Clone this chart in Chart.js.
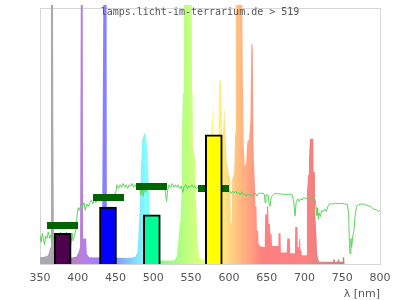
<!DOCTYPE html>
<html><head><meta charset="utf-8">
<script src="https://cdn.jsdelivr.net/npm/chart.js@4"></script>
<style>html,body{margin:0;padding:0;background:#fff}canvas{display:block}</style>
</head><body>
<canvas id="c" width="400" height="300"></canvas>
<script>
const sourceLabel = 'lamps.licht-im-terrarium.de > 519';
const axisTitle = 'λ [nm]';
const xTicks = [350, 400, 450, 500, 550, 600, 650, 700, 750, 800];

// emission spectrum (relative, 100 = top of frame; lines run off the top)
const specNm = [350,356,360,362,363.5,364.5,367,367.6,368.5,371,376,380,386,392,398,401,403,404.3,406.5,407,411,412,415,425,432,434.3,438,438.5,442,455,465,472,476,479,481.5,483.5,485.5,488,490,492,494,496,498,502,506,520,528,531,533,535,536,537.3,537.8,539.2,540.5,540.6,550.8,551,552,552.5,555,556.5,558.5,560.5,566,570,573,575,576.3,578,579.5,581,583,585.5,587,588.5,589.8,591,592.5,594,595.5,597,600,601.8,602.3,603.7,604.3,607,608.3,609.2,617.2,618.2,619.5,621,623,624.3,626.8,628.5,629.7,631,631.6,632.5,634.5,635,636.5,637,638.8,639.2,641,647.5,648,650,650.3,652,652.5,654.3,654.7,656.4,657,665,665.6,668.3,668.8,676.5,677.3,680.7,681.2,687.3,687.8,690.8,691.2,692.6,693,694.3,694.7,696,696.5,702.8,703.3,705,706,707.3,711.7,712,713.8,714.2,716,716.8,718.5,720,737.8,738,740.3,740.6,743.6,744,746,746.3,750.4,750.7,752.6,753,800];
const specVal = [2.6,2.8,3.2,4.5,6.5,130,130,56,6,4,3,2.8,2.6,2.5,2.8,4.5,6.6,130,130,10,10,4,2.6,2.5,2.7,130,130,4,2.6,2.4,2.3,2.5,2.8,4.5,18,36,49,51,51,45,30,15,6,2.5,1.5,1.3,1.5,3,8.5,15.7,17,28,50,67,67,130,130,67,67,45,42,25,10,2.5,1.5,3,10,30,54,57,64,38,30,36,72,72,70,48,53,62,50,40,35,33,16,16,33,36,51,130,130,79,48,38,40,47.5,49,56,86,86,83.5,45,30,22.6,22.6,13,13,8,7,6.6,19.4,19.4,22.6,22.6,15.6,15.6,11.7,11.7,7,7,12,12,4.5,4.5,10,10,4.2,4.2,14.5,14.5,6.6,6.6,9.8,9.8,5.4,5.4,3.4,3.4,28,35,41,49,49,36,36,20,10.5,4,1.5,0.9,0.9,1.8,1.8,0.9,0.9,1.8,1.8,0.9,0.9,2.6,2.6,0,0];

// green transmission curve
const curveNm = [350,351.5,353,354.5,356,357.5,359,361,363,365,367,369,371,373,375,377,379,381,383,385,387,389,391,392.5,394,396,397.5,399,400.5,402,404,406,408,410,412,414,416,418,420,422,424,426,428,430,432,434,436,438,440,442,444,446,448,450,451.5,454,456,458,460,462,464,466,468,470,472,474,476,478,480,482,483.5,485,486.5,488,490,492,494,496,498,500,502,504,506,508,510,512,514,516,517.5,519,521,523,525,527,529,531,533,535,537,539,541,543,545,547,549,551,553,555,557,559,561,563,565,570,575,580,585,590,595,599,601,603,605,607,609,611,613,615,617,619,621,623,625,627,629,631,633,635,637,639,641,643,645,647,648,649,652,653.5,654.5,656,658,660,665,670,675,680,684,686,687.5,689,691,693,695,697,699,702,705,708,711,714,715.5,716.5,717.5,718.5,719.5,721,723,725,727,729,731,733,737,741,745,749,753,757,758.5,759.5,760.3,761.5,762.5,764,765.5,767,769,772,776,780,784,788,791,795,798,800];
const curveVal = [11,8.5,12,10,7.5,11,10,12.5,10,11.5,9,12,10.5,12,11,12.5,10,12,11,12.5,10,12,8,12,9,12,13,19,22,21,23,22,24,21,23.5,22.5,24,25,23.5,25.5,24,25,26,24.5,26,25,27,26,27,25.5,27,26,27.5,27,31,29.5,31,30,31.5,30,31,29.5,31,30.5,31.5,30,31,30,31,29,27,30,26.5,29.5,28,30.5,31,30,31,30,31,30.5,31.5,30,31,30,31,28,24.5,29,31,30,31.5,30,31,30,31,29.5,30.5,28,30.5,31,29.5,30.5,30,31,30,30.5,29.5,30,30.5,29.5,30,29.5,29.5,29,29.5,29,28.5,28.3,28.8,27.5,28.5,27.8,28.5,27.5,28,27,28.3,27,27.5,26.5,27.5,26.8,27.2,26.5,27.5,27.8,26.5,27.5,27.8,27.5,27.8,27,24,27,27,23,22.6,26,27,27.5,27.5,27.3,27.2,27.3,27,24,18.8,24,25.5,24.5,25.5,25,26,25.5,26,25.8,26,25.5,22,19,22,17.5,20,18.5,21,20.5,21.5,20.5,22.5,23.5,23.5,23.8,23.6,23.7,23.5,23.2,19,8,4,10,6.5,11,13,18.8,22.6,23.2,23.5,23.2,22.8,22.5,21.5,21.2,20.5,21];

// filter bands: centre wavelength, bar height, marker level
const bandNm = [380, 440, 498, 580];
const bandVal = [12.0, 22.3, 19.2, 50.5];
const markVal = [15.2, 26.2, 30.5, 29.5];

function waveRGB(nm) {
  let r = 0, g = 0, b = 0;
  if (nm < 440) { r = (440 - nm) / 60; b = 1; }
  else if (nm < 490) { g = (nm - 440) / 50; b = 1; }
  else if (nm < 510) { g = 1; b = (510 - nm) / 20; }
  else if (nm < 580) { r = (nm - 510) / 70; g = 1; }
  else if (nm < 645) { r = 1; g = (645 - nm) / 65; }
  else { r = 1; }
  let f = 1;
  if (nm < 420) f = 0.3 + 0.7 * Math.max(0, nm - 380) / 40;
  else if (nm > 700) f = 0.3 + 0.7 * (780 - Math.min(nm, 780)) / 80;
  return [r * f, g * f, b * f];
}
function lightColor(nm) {
  let c = waveRGB(nm);
  const grey = [0.36, 0.32, 0.38];
  if (nm < 378) c = grey;
  else if (nm < 386) { const t = (nm - 378) / 8; c = c.map((v, i) => grey[i] * (1 - t) + v * t); }
  const v = c.map(x => Math.round(255 * (0.5 + 0.5 * x)));
  return `rgb(${v[0]},${v[1]},${v[2]})`;
}
function solidColor(nm) {
  const v = waveRGB(nm).map(x => Math.round(255 * x));
  return `rgb(${v[0]},${v[1]},${v[2]})`;
}

let gradCache = null, gradKey = '';
function spectrumFill(ctx) {
  const chart = ctx.chart;
  const area = chart.chartArea;
  const xs = chart.scales.x;
  if (!area || !xs) return 'rgba(0,0,0,0)';
  const key = area.left + ',' + area.right;
  if (gradCache && gradKey === key) return gradCache;
  const g = chart.ctx.createLinearGradient(area.left, 0, area.right, 0);
  const w = area.right - area.left;
  for (let nm = xTicks[0]; nm <= xTicks[xTicks.length - 1]; nm += 1) {
    const p = (xs.getPixelForValue(nm) - area.left) / w;
    g.addColorStop(Math.min(1, Math.max(0, p)), lightColor(nm));
  }
  gradCache = g; gradKey = key;
  return g;
}

const markImg = document.createElement('canvas');
markImg.width = 31; markImg.height = 7;
{ const m = markImg.getContext('2d'); m.fillStyle = '#006400'; m.fillRect(0, 0, 31, 7); }

const framePlugin = {
  id: 'frame',
  beforeDatasetsDraw(chart) {
    const {ctx, chartArea, scales} = chart;
    const top = Math.round(scales.y.getPixelForValue(100)) + 0.5;
    const left = Math.round(chartArea.left) + 0.5;
    const right = Math.round(chartArea.right) + 0.5;
    const bottom = Math.round(chartArea.bottom) + 0.5;
    ctx.save();
    ctx.strokeStyle = '#d6d6d6';
    ctx.lineWidth = 1;
    ctx.strokeRect(left, top, right - left, bottom - top);
    ctx.restore();
  },
  afterDraw(chart) {
    const ctx = chart.ctx;
    ctx.save();
    ctx.font = '10px "DejaVu Sans Mono", monospace';
    ctx.fillStyle = '#555';
    ctx.textAlign = 'center';
    ctx.textBaseline = 'alphabetic';
    ctx.fillText(sourceLabel, chart.width / 2, 14.5);
    ctx.restore();
  }
};

new Chart(document.getElementById('c'), {
  type: 'line',
  data: {
    datasets: [
      {
        type: 'bar', order: 0,
        data: bandNm.map((x, i) => ({x, y: bandVal[i]})),
        backgroundColor: bandNm.map(solidColor),
        borderColor: '#000', borderWidth: 2, barThickness: 17
      },
      {
        type: 'line', order: 1,
        data: bandNm.map((x, i) => ({x, y: markVal[i]})),
        showLine: false, pointStyle: markImg, pointRadius: 3
      },
      {
        type: 'line', order: 2,
        data: curveNm.map((x, i) => ({x, y: curveVal[i]})),
        borderColor: '#5fd35f', borderWidth: 1, pointRadius: 0, fill: false, tension: 0
      },
      {
        type: 'line', order: 3,
        data: specNm.map((x, i) => ({x, y: specVal[i]})),
        borderWidth: 0, pointRadius: 0, tension: 0,
        fill: 'origin', backgroundColor: spectrumFill
      }
    ]
  },
  options: {
    responsive: false, animation: false, devicePixelRatio: 1, events: [],
    layout: {padding: {left: 40, right: 20, top: 0, bottom: 0}},
    plugins: {legend: {display: false}, tooltip: {enabled: false}},
    scales: {
      x: {
        type: 'linear', offset: false,
        min: xTicks[0], max: xTicks[xTicks.length - 1],
        grid: {display: false, drawTicks: false, tickLength: 0}, border: {display: false},
        ticks: {stepSize: xTicks[1] - xTicks[0], padding: 8.9, color: '#555',
                font: {family: 'DejaVu Sans', size: 11, lineHeight: 1}, maxRotation: 0, autoSkip: false},
        title: {display: true, text: axisTitle, align: 'end', color: '#555',
                font: {family: 'DejaVu Sans', size: 11, lineHeight: 0.8},
                padding: {top: -2.7, bottom: 1.1}}
      },
      y: {
        display: false, min: 0, max: 101.3
      }
    }
  },
  plugins: [framePlugin]
});
</script>
</body></html>
